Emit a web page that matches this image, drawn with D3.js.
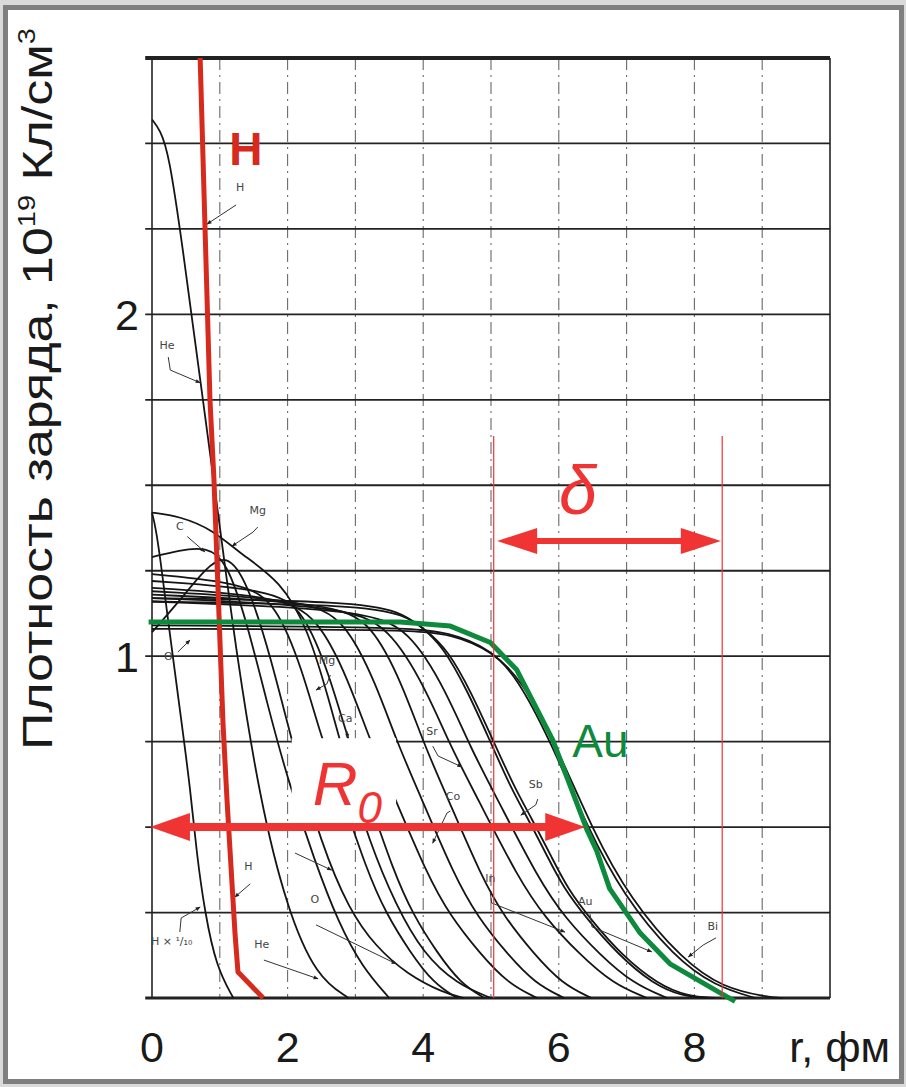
<!DOCTYPE html>
<html>
<head>
<meta charset="utf-8">
<script src="https://cdn.jsdelivr.net/npm/d3@7"></script>
<style>
  body { margin: 0; background: #dadada; }
  svg { display: block; }
</style>
</head>
<body>
<div id="chart-area"></div>
<script>

let margin = {top: 58, right: 76, bottom: 89, left: 152};
let width = 906 - margin.left - margin.right;
let height = 1087 - margin.top - margin.bottom;

// axes
let xTicks = [0, 2, 4, 6, 8];
let yTicks = [1, 2];
let gridR = [1, 2, 3, 4, 5, 6, 7, 8, 9];
let gridRho = [0, 0.25, 0.5, 0.75, 1, 1.25, 1.5, 1.75, 2, 2.25, 2.5, 2.75];

// scanned curves, [r (fm), density]
let curveHx10 = [[0,1.42],[0.05,1.38],[0.12,1.29],[0.24,1.10],[0.44,0.80],[0.56,0.62],[0.66,0.42],[0.78,0.25],[0.95,0.09],[1.2,0]];
let curveHe = [[0,2.57],[0.12,2.54],[0.25,2.47],[0.45,2.2],[0.71,1.81],[1.0,1.38],[1.25,1.0],[1.59,0.58],[1.99,0.26],[2.43,0.06],[2.9,0]];
let curveC = [[0,1.29],[0.4,1.31],[0.8,1.32],[1.1,1.28],[1.4,1.1],[1.7,0.86],[2.0,0.64],[2.4,0.40],[2.75,0.22],[3.1,0.09],[3.5,0]];
let curveO = [[0,1.07],[0.4,1.16],[0.8,1.26],[1.1,1.30],[1.4,1.22],[1.75,1.0],[2.1,0.72],[2.5,0.45],[2.9,0.26],[3.3,0.15],[3.76,0.07],[4.3,0.015],[4.6,0]];
let curvePk = [[0,1.42],[0.4,1.41],[0.9,1.37],[1.3,1.30],[1.9,1.22],[2.3,1.08],[2.6,0.88],[2.9,0.66],[3.2,0.46],[3.6,0.27],[4.0,0.13],[4.5,0.04],[5.0,0]];
let curveMg = [[0,1.24],[1.35,1.215],[1.84,1.153],[2.225,0.955],[2.47,0.78],[2.75,0.62],[3.17,0.372],[3.45,0.248],[3.8,0.136],[4.15,0.043],[4.5,0]];
let curveCa = [[0,1.22],[1.75,1.196],[2.24,1.135],[2.625,0.94],[2.87,0.77],[3.15,0.61],[3.57,0.366],[3.85,0.244],[4.2,0.134],[4.55,0.043],[4.9,0]];
let curveV = [[0,1.20],[1.85,1.176],[2.45,1.116],[2.91,0.924],[3.21,0.756],[3.55,0.60],[4.06,0.36],[4.4,0.24],[4.83,0.132],[5.25,0.042],[5.68,0]];
let curveCo = [[0,1.19],[2.25,1.166],[2.85,1.107],[3.31,0.916],[3.61,0.75],[3.95,0.595],[4.46,0.357],[4.8,0.238],[5.23,0.131],[5.65,0.042],[6.08,0]];
let curveNi = [[0,1.18],[2.65,1.156],[3.25,1.097],[3.71,0.909],[4.01,0.743],[4.35,0.59],[4.86,0.354],[5.2,0.236],[5.63,0.13],[6.05,0.041],[6.48,0]];
let curveSr = [[0,1.17],[2.8,1.147],[3.5,1.088],[4.05,0.90],[4.4,0.737],[4.8,0.585],[5.4,0.351],[5.8,0.234],[6.3,0.129],[6.8,0.041],[7.3,0]];
let curveIn = [[0,1.16],[3.1,1.137],[3.8,1.079],[4.35,0.893],[4.7,0.731],[5.1,0.58],[5.7,0.348],[6.1,0.232],[6.6,0.128],[7.1,0.041],[7.6,0]];
let curveSb = [[0,1.17],[3.0,1.16],[3.66,1.13],[3.95,1.09],[4.29,1.03],[4.65,0.9],[4.99,0.75],[5.28,0.62],[5.53,0.53],[5.83,0.415],[6.06,0.325],[6.42,0.23],[6.86,0.13],[7.39,0.04],[7.83,0.005],[8.2,0]];
let curveSb2 = [[0,1.16],[3.1,1.15],[3.73,1.12],[4.02,1.08],[4.36,1.02],[4.72,0.89],[5.06,0.74],[5.35,0.615],[5.6,0.525],[5.9,0.41],[6.13,0.32],[6.49,0.225],[6.93,0.125],[7.46,0.04],[7.9,0.005],[8.3,0]];
let curveAu = [[0,1.09],[3.66,1.085],[4.4,1.07],[4.99,1.02],[5.38,0.94],[5.87,0.755],[6.42,0.5],[6.95,0.3],[7.7,0.12],[8.3,0.035],[8.9,0]];
let curveBi = [[0,1.08],[3.7,1.078],[4.45,1.065],[5.05,1.01],[5.45,0.93],[5.95,0.745],[6.5,0.49],[7.05,0.29],[7.83,0.11],[8.42,0.03],[9.07,0.003],[9.3,0]];

let blackCurves = [curveHx10, curveHe, curveC, curveO, curvePk, curveMg, curveCa, curveV,
    curveCo, curveNi, curveSr, curveIn, curveSb, curveSb2, curveAu, curveBi];

// hand drawn overlays
let redH = [[0.71,2.75],[0.855,1.75],[0.914,1.516],[1.047,0.805],[1.106,0.58],[1.224,0.19],[1.268,0.076],[1.64,0]];
let greenAu = [[-0.05,1.10],[3.26,1.10],[3.66,1.10],[4.40,1.088],[4.99,1.04],[5.38,0.96],[5.91,0.755],[6.42,0.49],[6.56,0.43],[6.75,0.32],[7.20,0.19],[7.64,0.10],[8.38,0.015],[8.60,-0.01]];

// R0 and delta
let r0Span = [-0.03, 6.39], r0Level = 0.5;
let deltaSpan = [5.09, 8.39], deltaLevel = 1.337;
let deltaBounds = [5.04, 8.41], deltaTop = 1.644;

// little scanned labels: text, text position, pointer path
let notes = [
    {t: "H", at: [1.30, 2.36], p: [[1.24,2.32],[0.81,2.264]]},
    {t: "He", at: [0.22, 1.90], p: [[0.24,1.875],[0.27,1.837],[0.71,1.80]]},
    {t: "C", at: [0.41, 1.37], p: [[0.52,1.35],[0.78,1.305]]},
    {t: "Mg", at: [1.56, 1.416], p: [[1.56,1.378],[1.49,1.363],[1.18,1.322]]},
    {t: "O", at: [0.24, 0.99], p: [[0.38,1.012],[0.56,1.047]]},
    {t: "Mg", at: [2.58, 0.977], p: [[2.63,0.945],[2.58,0.919],[2.42,0.901]]},
    {t: "Ca", at: [2.85, 0.807], p: [[2.88,0.78],[2.88,0.76]]},
    {t: "Sr", at: [4.13, 0.77], p: [[4.14,0.737],[4.22,0.708],[4.57,0.676]]},
    {t: "Co", at: [4.44, 0.58], p: [[4.40,0.547],[4.35,0.541],[4.14,0.453]]},
    {t: "Sb", at: [5.66, 0.614], p: [[5.69,0.582],[5.66,0.565],[5.44,0.535]]},
    {t: "In", at: [4.99, 0.34], p: [[4.99,0.307],[5.01,0.278],[6.09,0.193]]},
    {t: "Au", at: [6.39, 0.272], p: [[6.46,0.246],[6.49,0.208],[7.37,0.135]]},
    {t: "Bi", at: [8.27, 0.199], p: [[8.32,0.176],[8.13,0.155],[7.91,0.12]]},
    {t: "O", at: [2.40, 0.278], p: [[2.42,0.214],[3.6,0.1]]},
    {t: "He", at: [1.62, 0.146], p: [[1.65,0.111],[2.45,0.056]]},
    {t: "H", at: [1.42, 0.374], p: [[1.45,0.334],[1.22,0.295]]},
    {t: "H × ¹/₁₀", at: [0.29, 0.155], p: [[0.41,0.193],[0.43,0.234],[0.71,0.266]]},
    {t: "", at: [2.11, 0.424], p: [[2.11,0.424],[2.65,0.374]]}
];

let svgRoot = d3.select("#chart-area").append("svg")
    .attr("width", 906)
    .attr("height", 1087);

// frame
svgRoot.append("rect").attr("width", 906).attr("height", 1087).attr("fill", "#dadada");
svgRoot.append("rect")
    .attr("x", 5.5).attr("y", 7.5).attr("width", 896).attr("height", 1074)
    .attr("fill", "white").attr("stroke", "#7f7f7f").attr("stroke-width", 5);

let svg = svgRoot.append("g")
    .attr("transform", "translate(" + margin.left + "," + margin.top + ")");

let x = d3.scaleLinear().domain([0, 10]).range([0, width]);
let y = d3.scaleLinear().domain([0, 2.75]).range([height, 0]);

// vertical dash-dot grid
svg.selectAll(".vgrid")
    .data(gridR)
    .enter().append("line")
    .attr("class", "vgrid")
    .attr("x1", d => x(d)).attr("x2", d => x(d))
    .attr("y1", y(2.75)).attr("y2", y(0))
    .attr("stroke", "#6a6a6a")
    .attr("stroke-width", 1.1)
    .attr("stroke-dasharray", "12,5,2,5");

// horizontal grid
svg.selectAll(".hgrid")
    .data(gridRho)
    .enter().append("line")
    .attr("class", "hgrid")
    .attr("x1", x(-0.1)).attr("x2", x(10))
    .attr("y1", d => y(d)).attr("y2", d => y(d))
    .attr("stroke", "#222")
    .attr("stroke-width", d => d == 2.75 ? 4 : (d == 0 ? 3 : 1.8));

// frame sides
svg.selectAll(".side")
    .data([0, 10])
    .enter().append("line")
    .attr("class", "side")
    .attr("x1", d => x(d)).attr("x2", d => x(d))
    .attr("y1", y(2.75)).attr("y2", y(0))
    .attr("stroke", "#222").attr("stroke-width", 1.6);

let line = d3.line()
    .x(d => x(d[0]))
    .y(d => y(d[1]))
    .curve(d3.curveBasis);

svg.selectAll(".curve")
    .data(blackCurves)
    .enter().append("path")
    .attr("class", "curve")
    .attr("d", line)
    .attr("fill", "none")
    .attr("stroke", "#151515")
    .attr("stroke-width", 1.8);

// pointer markers
svgRoot.append("defs").append("marker")
    .attr("id", "tip")
    .attr("viewBox", "0 0 10 10")
    .attr("refX", 9).attr("refY", 5)
    .attr("markerWidth", 6).attr("markerHeight", 5)
    .attr("orient", "auto")
    .append("path").attr("d", "M0,1L10,5L0,9z").attr("fill", "#222");

let linear = d3.line().x(d => x(d[0])).y(d => y(d[1]));

svg.selectAll(".pointer")
    .data(notes)
    .enter().append("path")
    .attr("class", "pointer")
    .attr("d", d => linear(d.p))
    .attr("fill", "none")
    .attr("stroke", "#333")
    .attr("stroke-width", 1)
    .attr("marker-end", "url(#tip)");

svg.selectAll(".note")
    .data(notes)
    .enter().append("text")
    .attr("class", "note")
    .attr("x", d => x(d.at[0]))
    .attr("y", d => y(d.at[1]))
    .attr("text-anchor", "middle")
    .style("font-family", "DejaVu Sans, sans-serif")
    .style("font-size", "11px")
    .style("fill", "#444")
    .text(d => d.t);

// white patch behind R0 text
svg.append("rect")
    .attr("x", x(2.06)).attr("y", y(0.76))
    .attr("width", x(3.6) - x(2.06)).attr("height", y(0.51) - y(0.76))
    .attr("fill", "white");

// red H trace
svg.append("path")
    .attr("d", linear(redH))
    .attr("fill", "none")
    .attr("stroke", "#d62a1f")
    .attr("stroke-width", 5)
    .attr("stroke-linejoin", "round");

// green Au trace
svg.append("path")
    .attr("d", linear(greenAu))
    .attr("fill", "none")
    .attr("stroke", "#0d8a3c")
    .attr("stroke-width", 5)
    .attr("stroke-linejoin", "round");

// delta bounds
svg.selectAll(".bound")
    .data(deltaBounds)
    .enter().append("line")
    .attr("class", "bound")
    .attr("x1", d => x(d)).attr("x2", d => x(d))
    .attr("y1", y(deltaTop)).attr("y2", y(0))
    .attr("stroke", "#ee3333").attr("stroke-width", 1.2);

function arrow(span, level, shaft, headL, headH) {
    let x1 = x(span[0]), x2 = x(span[1]), yy = y(level);
    svg.append("line")
        .attr("x1", x1 + headL - 2).attr("x2", x2 - headL + 2)
        .attr("y1", yy).attr("y2", yy)
        .attr("stroke", "#f03434").attr("stroke-width", shaft);
    svg.append("path")
        .attr("d", "M" + x1 + "," + yy + "L" + (x1 + headL) + "," + (yy - headH) + "L" + (x1 + headL) + "," + (yy + headH) + "Z")
        .attr("fill", "#f03434");
    svg.append("path")
        .attr("d", "M" + x2 + "," + yy + "L" + (x2 - headL) + "," + (yy - headH) + "L" + (x2 - headL) + "," + (yy + headH) + "Z")
        .attr("fill", "#f03434");
}
arrow(r0Span, r0Level, 8, 40, 14);
arrow(deltaSpan, deltaLevel, 6, 40, 13);

// big labels
let rLabel = svg.append("text")
    .attr("x", x(2.37)).attr("y", y(0.565))
    .style("font-family", "Liberation Sans, Arial, sans-serif")
    .style("font-style", "italic")
    .style("font-size", "62px")
    .style("fill", "#f03434");
rLabel.append("tspan").text("R");
rLabel.append("tspan").attr("dy", 18).style("font-size", "44px").text("0");

svg.append("text")
    .attr("x", x(6.28)).attr("y", y(1.415))
    .attr("text-anchor", "middle")
    .style("font-family", "Liberation Sans, Arial, sans-serif")
    .style("font-style", "italic")
    .style("font-size", "68px")
    .style("fill", "#f03434")
    .text("δ");

svg.append("text")
    .attr("x", x(6.2)).attr("y", y(0.75) + 15)
    .style("font-family", "Liberation Sans, Arial, sans-serif")
    .style("font-size", "46px")
    .style("fill", "#0d8a3c")
    .text("Au");

svg.append("text")
    .attr("x", x(1.14)).attr("y", y(2.5) + 22)
    .style("font-family", "Liberation Sans, Arial, sans-serif")
    .style("font-weight", "bold")
    .style("font-size", "46px")
    .style("fill", "#d62a1f")
    .text("H");

// tick labels
svg.selectAll(".xlab")
    .data(xTicks)
    .enter().append("text")
    .attr("class", "xlab")
    .attr("x", d => x(d)).attr("y", height + 64)
    .attr("text-anchor", "middle")
    .style("font-family", "Liberation Sans, Arial, sans-serif")
    .style("font-size", "43px")
    .style("fill", "#1a1a1a")
    .text(d => d);

svg.append("text")
    .attr("x", x(9.4)).attr("y", height + 64)
    .style("font-family", "Liberation Sans, Arial, sans-serif")
    .style("font-size", "43px")
    .style("fill", "#1a1a1a")
    .text("r, фм");

svg.selectAll(".ylab")
    .data(yTicks)
    .enter().append("text")
    .attr("class", "ylab")
    .attr("x", -13).attr("y", d => y(d) + 16)
    .attr("text-anchor", "end")
    .style("font-family", "Liberation Sans, Arial, sans-serif")
    .style("font-size", "43px")
    .style("fill", "#1a1a1a")
    .text(d => d);

let yTitle = svgRoot.append("text")
    .attr("transform", "translate(52,750) rotate(-90)")
    .attr("textLength", 722)
    .attr("lengthAdjust", "spacingAndGlyphs")
    .style("font-family", "Liberation Sans, Arial, sans-serif")
    .style("font-size", "43px")
    .style("fill", "#1a1a1a");
yTitle.append("tspan").text("Плотность заряда, 10");
yTitle.append("tspan").attr("dy", -17).style("font-size", "24px").text("19");
yTitle.append("tspan").attr("dy", 17).text(" Кл/см");
yTitle.append("tspan").attr("dy", -17).style("font-size", "24px").text("3");

</script>
</body>
</html>
